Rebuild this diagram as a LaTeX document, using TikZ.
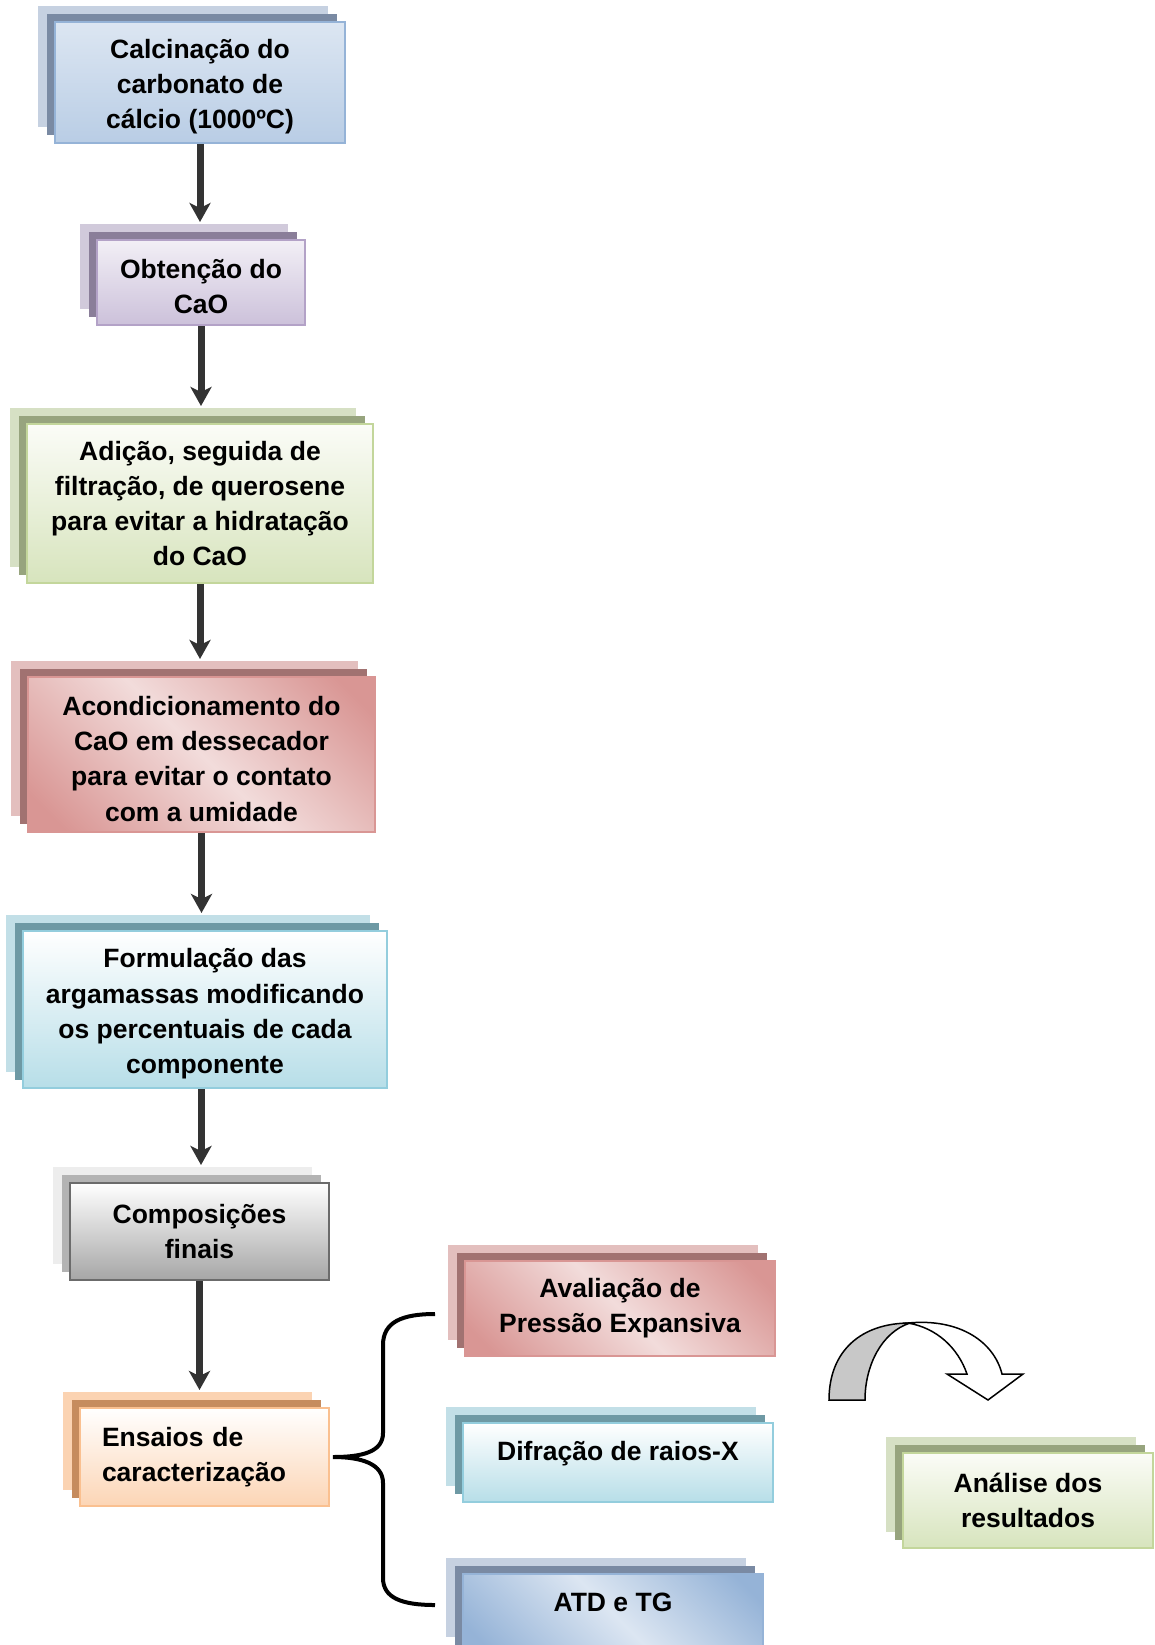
\documentclass[tikz,border=0pt]{standalone}
\usepackage{fontspec}
\setmainfont{Liberation Sans}
\usepackage{tikz}
\usetikzlibrary{arrows.meta,shadows}

\definecolor{azulA}{HTML}{DCE6F2}
\definecolor{azulB}{HTML}{95B3D7}
\definecolor{azulC}{HTML}{B9CDE5}
\definecolor{azulM}{HTML}{7A8AA3}
\definecolor{azulF}{HTML}{C6D1E1}
\definecolor{lilasA}{HTML}{F2EFF6}
\definecolor{lilasB}{HTML}{B3A2C7}
\definecolor{lilasC}{HTML}{CCC1DA}
\definecolor{lilasM}{HTML}{8A7E99}
\definecolor{lilasF}{HTML}{D1CADB}
\definecolor{verdeA}{HTML}{FBFCF7}
\definecolor{verdeB}{HTML}{C3D69B}
\definecolor{verdeC}{HTML}{D7E4BD}
\definecolor{verdeM}{HTML}{97A47E}
\definecolor{verdeF}{HTML}{D6E0C4}
\definecolor{vermA}{HTML}{F2DCDB}
\definecolor{vermB}{HTML}{D99694}
\definecolor{vermM}{HTML}{A17271}
\definecolor{vermF}{HTML}{E3BFBE}
\definecolor{cianoA}{HTML}{FFFFFF}
\definecolor{cianoB}{HTML}{93CDDD}
\definecolor{cianoC}{HTML}{B7DEE8}
\definecolor{cianoM}{HTML}{6E99A4}
\definecolor{cianoF}{HTML}{C2DFE7}
\definecolor{cinzaA}{HTML}{FFFFFF}
\definecolor{cinzaB}{HTML}{6B6B6B}
\definecolor{cinzaC}{HTML}{A6A6A6}
\definecolor{cinzaM}{HTML}{B3B3B3}
\definecolor{cinzaF}{HTML}{EDEDED}
\definecolor{laranjaA}{HTML}{FFFFFF}
\definecolor{laranjaB}{HTML}{FAC090}
\definecolor{laranjaC}{HTML}{FCD5B5}
\definecolor{laranjaM}{HTML}{C68C5E}
\definecolor{laranjaF}{HTML}{FBD3B2}
\definecolor{seta}{HTML}{333333}
\definecolor{cinzaSeta}{HTML}{C8C8C8}

\pgfdeclareverticalshading{diagVerm}{100bp}{color(0bp)=(vermB); color(20bp)=(vermB); color(50bp)=(vermA); color(80bp)=(vermB); color(100bp)=(vermB)}
\pgfdeclareverticalshading{diagAzul}{100bp}{color(0bp)=(azulB); color(20bp)=(azulB); color(50bp)=(azulA); color(80bp)=(azulB); color(100bp)=(azulB)}

\newcommand{\espacador}{\rule{0pt}{14pt}}

\begin{document}
\begin{tikzpicture}[
    x=0.5pt, y=-0.5pt,
    font=\fontsize{13.25pt}{17.6pt}\selectfont\bfseries,
    caixa/.style={rectangle, inner sep=0, line width=1pt, align=center},
    camadas/.style 2 args={
        general shadow={fill=#1, shadow xshift=-8.5pt, shadow yshift=8pt},
        general shadow={fill=#2, shadow xshift=-4.25pt, shadow yshift=4pt}},
    azul/.style={caixa, draw=azulB, top color=azulA, bottom color=azulC, camadas={azulF}{azulM}},
    azuldiag/.style={caixa, draw=azulB, shade, shading=diagAzul, shading angle=-45, camadas={azulF}{azulM}},
    lilas/.style={caixa, draw=lilasB, top color=lilasA, bottom color=lilasC, camadas={lilasF}{lilasM}},
    verde/.style={caixa, draw=verdeB, top color=verdeA, bottom color=verdeC, camadas={verdeF}{verdeM}},
    vermelho/.style={caixa, draw=vermB, shade, shading=diagVerm, shading angle=-45, camadas={vermF}{vermM}},
    ciano/.style={caixa, draw=cianoB, top color=cianoA, bottom color=cianoC, camadas={cianoF}{cianoM}},
    cinza/.style={caixa, draw=cinzaB, top color=cinzaA, bottom color=cinzaC, camadas={cinzaF}{cinzaM}},
    laranja/.style={caixa, draw=laranjaB, top color=laranjaA, bottom color=laranjaC, camadas={laranjaF}{laranjaM}},
    alto/.style={text height=9.5pt, text depth=12pt},
    fluxo/.style={draw=seta, line width=3.5pt, -{Stealth[length=9.5pt,width=10.5pt,inset=2.5pt]}, shorten >=8.5pt},
    chave/.style={draw=black, line width=2pt},
    curva/.style={draw=black, line width=0.75pt}]
\useasboundingbox (0,0) rectangle (1155,1645);

\node (calcinacao) [azul, minimum width=145pt, minimum height=60.5pt] at (200,82.5)
    {\espacador Calcinação do\\carbonato de\\cálcio (1000ºC)};
\node (obtencao) [lilas, minimum width=104pt, minimum height=42.5pt] at (201,282.5)
    {\espacador Obtenção do\\CaO};
\node (adicao) [verde, minimum width=173pt, minimum height=79.5pt] at (200,503.5)
    {Adição, seguida de\\filtração, de querosene\\para evitar a hidratação\\do CaO};
\node (acondic) [vermelho, minimum width=173.5pt, minimum height=77.5pt] at (201.5,754.5)
    {\espacador Acondicionamento do\\CaO em dessecador\\para evitar o contato\\com a umidade};
\node (formulacao) [ciano, minimum width=182pt, minimum height=78.5pt] at (205,1009.5)
    {\espacador Formulação das\\argamassas modificando\\os percentuais de cada\\componente};
\node (composicoes) [cinza, minimum width=129.5pt, minimum height=48.5pt] at (199.5,1231.5)
    {Composições\\finais};
\node (ensaios) [laranja, minimum width=124.5pt, minimum height=49pt, text width=102.5pt, align=left] at (204.5,1457)
    {Ensaios de\\caracterização};
\node (pressao) [vermelho, minimum width=155pt, minimum height=47.5pt] at (620,1308.5)
    {Avaliação de\\Pressão Expansiva};
\node (difracao) [ciano, alto, minimum width=155pt, minimum height=39.5pt] at (618,1462.5)
    {Difração de raios-X};
\node (atdtg) [azuldiag, alto, minimum width=150pt, minimum height=39.5pt] at (613,1613.5)
    {ATD e TG};
\node (analise) [verde, minimum width=125pt, minimum height=47.5pt] at (1028,1500.5)
    {Análise dos\\resultados};

\draw[fluxo] (calcinacao.south) -- (calcinacao.south |- obtencao.north);
\draw[fluxo] (obtencao.south) -- (obtencao.south |- adicao.north);
\draw[fluxo] (adicao.south) -- (adicao.south |- acondic.north);
\draw[fluxo] (acondic.south) -- (acondic.south |- formulacao.north);
\draw[fluxo] ([xshift=-2pt]formulacao.south) -- ([xshift=-2pt]formulacao.south |- composicoes.north);
\draw[fluxo] (composicoes.south) -- (composicoes.south |- ensaios.north);

\coordinate (chaveA) at (435,1314);
\coordinate (chaveB) at (435,1605);
\draw[chave] (chaveA) .. controls (402,1314) and (383,1322) .. (383,1345) -- (383,1433)
    .. controls (383,1452) and (362,1457) .. ([xshift=1.5pt]ensaios.east)
    .. controls (362,1457) and (383,1464) .. (383,1483) -- (383,1578)
    .. controls (383,1598) and (402,1605) .. (chaveB);

\filldraw[curva, fill=cinzaSeta] (829,1400) .. controls (829,1350) and (862,1323) .. (910,1323)
    .. controls (882,1332) and (865,1365) .. (865,1400) -- cycle;
\filldraw[curva, fill=white] (908,1323) .. controls (960,1318) and (994,1342) .. (1002,1374)
    -- (1023,1374) -- (988,1400) -- (947,1374) -- (967,1374)
    .. controls (958,1348) and (937,1328) .. (908,1323) -- cycle;

\end{tikzpicture}
\end{document}
